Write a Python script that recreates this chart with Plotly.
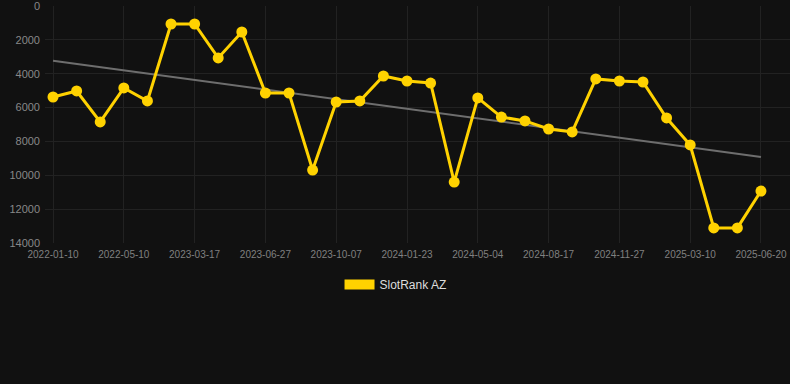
import plotly.graph_objects as go

dates = [
    "2022-01-10", "2022-02-19", "2022-03-31", "2022-05-10", "2022-08-15", "2022-12-01",
    "2023-03-17", "2023-04-22", "2023-05-25", "2023-06-27", "2023-07-31", "2023-09-03",
    "2023-10-07", "2023-11-12", "2023-12-18", "2024-01-23", "2024-02-27", "2024-03-31",
    "2024-05-04", "2024-06-08", "2024-07-13", "2024-08-17", "2024-09-21", "2024-10-24",
    "2024-11-27", "2024-12-31", "2025-02-04", "2025-03-10", "2025-04-14", "2025-05-17",
    "2025-06-20",
]
rank = [
    5375, 5020, 6850, 4840, 5610, 1063, 1063, 3070, 1535, 5140, 5140,
    9690, 5670, 5610, 4135, 4430, 4550, 10400, 5430, 6560, 6790, 7265,
    7440, 4310, 4430, 4490, 6615, 8210, 13110, 13110, 10930,
]
trend_x = [dates[0], dates[-1]]
trend_y = [3230, 8920]
tick_labels = dates[::3]
y_ticks = [0, 2000, 4000, 6000, 8000, 10000, 12000, 14000]
y_tick_text = [str(v) for v in y_ticks]

GOLD = "#FFD200"

fig = go.Figure()
fig.add_trace(go.Scatter(
    x=trend_x, y=trend_y, mode="lines",
    line=dict(color="#6e6e6e", width=2),
    showlegend=False, hoverinfo="skip",
))
fig.add_trace(go.Scatter(
    x=dates, y=rank, mode="lines+markers",
    line=dict(color=GOLD, width=3),
    marker=dict(color=GOLD, size=11),
    showlegend=False, name="SlotRank AZ",
))
fig.add_trace(go.Scatter(
    x=[None], y=[None], mode="lines",
    line=dict(color=GOLD, width=12),
    name="SlotRank AZ", showlegend=True,
))

fig.update_layout(
    width=790, height=384,
    margin=dict(l=45, r=0, t=6, b=141),
    paper_bgcolor="#111111", plot_bgcolor="#111111",
    font=dict(family="Liberation Sans, Arial, sans-serif", color="#888888"),
    legend=dict(
        orientation="h", x=0.4705, xanchor="center", y=-0.175, yanchor="middle",
        font=dict(size=12, color="#dddddd"), bgcolor="rgba(0,0,0,0)",
    ),
    xaxis=dict(
        type="category", categoryorder="array", categoryarray=dates,
        tickvals=tick_labels, ticktext=tick_labels,
        range=[-0.34, 31.23],
        showgrid=True, gridcolor="#222222", gridwidth=1,
        zeroline=False, showline=False,
        tickfont=dict(size=10, color="#808080"),
        ticks="", ticklabelstandoff=4,
    ),
    yaxis=dict(
        range=[14000, 0], tickvals=y_ticks, ticktext=y_tick_text,
        showgrid=True, gridcolor="#222222", gridwidth=1,
        zeroline=False, showline=False,
        tickfont=dict(size=11, color="#888888"),
        ticks="", ticklabelstandoff=4, ticklabeloverflow="allow",
    ),
)

fig.write_html("out.html")
